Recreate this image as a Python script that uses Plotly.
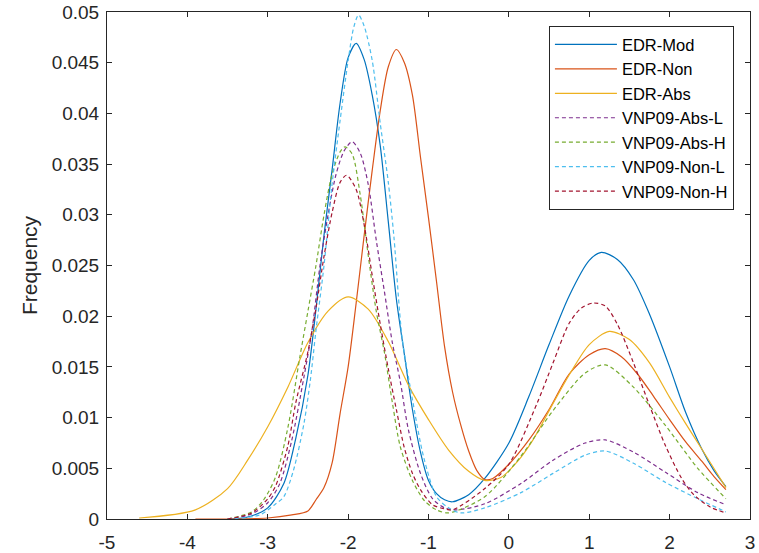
import plotly.graph_objects as go

# ---- data ----
x_edr_mod = [-3.5, -3.25, -3.0, -2.8, -2.65, -2.5, -2.4, -2.3, -2.2, -2.1, -2.0, -1.9, -1.8, -1.7, -1.6,
             -1.5, -1.4, -1.3, -1.2, -1.1, -1.0, -0.9, -0.8, -0.7, -0.5, -0.3, 0.0, 0.25, 0.5, 0.75,
             1.0, 1.15, 1.35, 1.55, 1.75, 2.0, 2.2, 2.4, 2.55, 2.7]
y_edr_mod = [0.0, 0.0002, 0.0011, 0.0035, 0.0080, 0.0142, 0.0207, 0.0280, 0.0344, 0.0410, 0.0455, 0.0469,
             0.0453, 0.0418, 0.0368, 0.0293, 0.0217, 0.0162, 0.0108, 0.0066, 0.0038, 0.0025, 0.0019,
             0.0017, 0.0024, 0.0040, 0.0075, 0.0121, 0.0172, 0.0220, 0.0255, 0.0263, 0.0256, 0.0236,
             0.0202, 0.0150, 0.0105, 0.0069, 0.0048, 0.0032]

x_edr_non = [-3.9, -3.0, -2.7, -2.5, -2.4, -2.3, -2.2, -2.1, -2.0, -1.9, -1.8, -1.7, -1.6, -1.5, -1.4,
             -1.3, -1.2, -1.1, -1.0, -0.9, -0.8, -0.7, -0.6, -0.5, -0.4, -0.3, -0.2, 0.0, 0.25, 0.5,
             0.75, 1.0, 1.2, 1.4, 1.6, 1.8, 2.0, 2.2, 2.4, 2.55, 2.7]
y_edr_non = [0.0, 0.0001, 0.0004, 0.0008, 0.0019, 0.0031, 0.0055, 0.0104, 0.0150, 0.0213, 0.0280, 0.0344,
             0.0403, 0.0446, 0.0463, 0.0450, 0.0418, 0.0357, 0.0297, 0.0234, 0.0170, 0.0125, 0.0093,
             0.0067, 0.0048, 0.0039, 0.0040, 0.0054, 0.0078, 0.0108, 0.0143, 0.0162, 0.0168, 0.0160,
             0.0143, 0.0121, 0.0098, 0.0076, 0.0057, 0.0042, 0.0029]

x_edr_abs = [-4.6, -3.9, -3.5, -3.25, -3.0, -2.75, -2.5, -2.25, -2.0, -1.75, -1.5, -1.25, -1.0, -0.75,
             -0.5, -0.3, -0.1, 0.1, 0.3, 0.55, 0.75, 1.0, 1.25, 1.5, 1.75, 2.0, 2.2, 2.4, 2.55, 2.7]
y_edr_abs = [0.0001, 0.0009, 0.0030, 0.0058, 0.0091, 0.0130, 0.0174, 0.0205, 0.0219, 0.0207, 0.0175,
             0.0132, 0.0098, 0.0068, 0.0047, 0.0038, 0.0041, 0.0056, 0.0078, 0.0114, 0.0142, 0.0172,
             0.0185, 0.0177, 0.0154, 0.0120, 0.0094, 0.0069, 0.0050, 0.0031]

x_abs_l = [-3.5, -3.2, -3.0, -2.85, -2.7, -2.55, -2.45, -2.35, -2.25, -2.15, -2.05, -1.95, -1.85, -1.75,
           -1.65, -1.55, -1.45, -1.35, -1.25, -1.1, -0.95, -0.8, -0.65, -0.3, 0.15, 0.55, 0.95, 1.2,
           1.55, 1.95, 2.35, 2.7]
y_abs_l = [0.0, 0.0005, 0.0016, 0.0035, 0.0078, 0.0140, 0.0186, 0.0250, 0.0300, 0.0340, 0.0363, 0.0372,
           0.0361, 0.0330, 0.0275, 0.0225, 0.0174, 0.0135, 0.0088, 0.0045, 0.0020, 0.0011, 0.0009,
           0.0015, 0.0035, 0.0058, 0.0075, 0.0078, 0.0066, 0.0046, 0.0026, 0.0014]

x_abs_h = [-3.5, -3.2, -3.05, -2.9, -2.75, -2.6, -2.5, -2.4, -2.3, -2.2, -2.1, -2.04, -1.95, -1.85,
           -1.75, -1.65, -1.55, -1.45, -1.35, -1.2, -1.05, -0.9, -0.75, -0.3, 0.15, 0.55, 0.95, 1.2,
           1.55, 1.95, 2.35, 2.7]
y_abs_h = [0.0, 0.0007, 0.0019, 0.0042, 0.0090, 0.0160, 0.0205, 0.0250, 0.0300, 0.0340, 0.0362, 0.0367,
           0.0360, 0.0320, 0.0260, 0.0205, 0.0165, 0.0115, 0.0071, 0.0038, 0.0018, 0.0009, 0.0006,
           0.0022, 0.0062, 0.0107, 0.0144, 0.0152, 0.0130, 0.0092, 0.0050, 0.0020]

x_non_l = [-3.5, -3.1, -2.9, -2.8, -2.68, -2.55, -2.47, -2.4, -2.3, -2.2, -2.1, -2.0, -1.93, -1.87,
           -1.8, -1.7, -1.6, -1.5, -1.43, -1.33, -1.2, -1.06, -0.9, -0.75, -0.6, -0.3, 0.15, 0.55,
           0.95, 1.2, 1.55, 1.95, 2.35, 2.7]
y_non_l = [0.0, 0.0004, 0.0015, 0.0022, 0.0048, 0.0094, 0.0137, 0.0186, 0.0250, 0.0330, 0.0393, 0.0452,
           0.0485, 0.0497, 0.0486, 0.0452, 0.0390, 0.0332, 0.0278, 0.0180, 0.0118, 0.0061, 0.0022,
           0.0011, 0.0006, 0.0011, 0.0026, 0.0045, 0.0063, 0.0067, 0.0055, 0.0036, 0.0020, 0.0007]

x_non_h = [-3.5, -3.2, -3.0, -2.9, -2.75, -2.65, -2.5, -2.4, -2.3, -2.2, -2.1, -2.02, -1.9, -1.8, -1.7,
           -1.6, -1.5, -1.4, -1.3, -1.2, -1.1, -0.95, -0.8, -0.7, -0.3, 0.0, 0.35, 0.55, 0.75, 0.9,
           1.05, 1.2, 1.35, 1.55, 1.75, 1.95, 2.15, 2.3, 2.5, 2.7]
y_non_h = [0.0, 0.0006, 0.0020, 0.0033, 0.0072, 0.0115, 0.0165, 0.0208, 0.0259, 0.0302, 0.0332, 0.0339,
           0.0325, 0.0290, 0.0240, 0.0192, 0.0148, 0.0108, 0.0070, 0.0045, 0.0029, 0.0014, 0.0010,
           0.0009, 0.0030, 0.0054, 0.0114, 0.0154, 0.0193, 0.0208, 0.0213, 0.0210, 0.0192, 0.0154,
           0.0112, 0.0072, 0.0040, 0.0024, 0.0012, 0.0006]

series_names = ["EDR-Mod", "EDR-Non", "EDR-Abs", "VNP09-Abs-L", "VNP09-Abs-H", "VNP09-Non-L", "VNP09-Non-H"]
series_x = [x_edr_mod, x_edr_non, x_edr_abs, x_abs_l, x_abs_h, x_non_l, x_non_h]
series_y = [y_edr_mod, y_edr_non, y_edr_abs, y_abs_l, y_abs_h, y_non_l, y_non_h]
series_colors = ["#0072BD", "#D95319", "#EDB120", "#7E2F8E", "#77AC30", "#4DBEEE", "#A2142F"]
series_dash = ["solid", "solid", "solid", "4px,3px", "4px,3px", "4px,3px", "4px,3px"]

x_ticks = [-5, -4, -3, -2, -1, 0, 1, 2, 3]
y_ticks = [0, 0.005, 0.01, 0.015, 0.02, 0.025, 0.03, 0.035, 0.04, 0.045, 0.05]
y_ticktext = ["0", "0.005", "0.01", "0.015", "0.02", "0.025", "0.03", "0.035", "0.04", "0.045", "0.05"]

FONT = "Arial, 'Liberation Sans', sans-serif"
AX = "#262626"

fig = go.Figure()
for name, xs, ys, col, dash in zip(series_names, series_x, series_y, series_colors, series_dash):
    fig.add_trace(go.Scatter(
        x=xs, y=ys, mode="lines", name=name,
        line=dict(color=col, width=1.2, dash=dash, shape="spline", smoothing=0.8),
    ))

fig.update_layout(
    template="none",
    width=759, height=553,
    margin=dict(l=107, r=9, t=12, b=34, autoexpand=False),
    paper_bgcolor="white", plot_bgcolor="white",
    font=dict(family=FONT, size=19, color=AX),
    showlegend=True,
    legend=dict(
        x=0.975, y=0.972, xanchor="right", yanchor="top",
        bgcolor="white", bordercolor=AX, borderwidth=1,
        font=dict(family=FONT, size=16.5, color="#000000"),
        tracegroupgap=0, itemwidth=62,
    ),
    xaxis=dict(
        range=[-5, 3], tickvals=x_ticks, ticktext=[str(v) for v in x_ticks], automargin=False,
        showgrid=False, zeroline=False, showline=True, linecolor=AX, linewidth=1,
        mirror="ticks", ticks="inside", ticklen=5, tickcolor=AX, tickwidth=1,
        tickfont=dict(family=FONT, size=19, color=AX), ticklabelstandoff=6,
    ),
    yaxis=dict(
        range=[0, 0.05], tickvals=y_ticks, ticktext=y_ticktext, automargin=False,
        showgrid=False, zeroline=False, showline=True, linecolor=AX, linewidth=1,
        mirror="ticks", ticks="inside", ticklen=5, tickcolor=AX, tickwidth=1,
        tickfont=dict(family=FONT, size=19, color=AX), ticklabelstandoff=3,
        title=dict(text="Frequency", font=dict(family=FONT, size=21, color=AX), standoff=8),
    ),
)

fig.write_html("out.html")
